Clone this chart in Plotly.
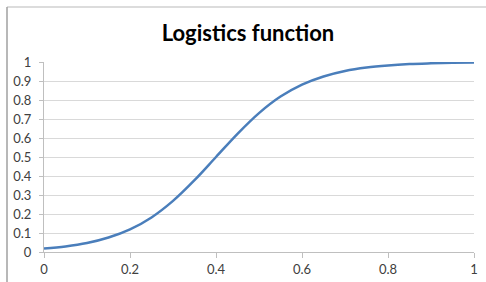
import plotly.graph_objects as go

x_values = [0.0, 0.05, 0.1, 0.15, 0.2, 0.25, 0.3, 0.35, 0.4, 0.45, 0.5,
            0.55, 0.6, 0.65, 0.7, 0.75, 0.8, 0.85, 0.9, 0.95, 1.0]
y_values = [0.018, 0.029, 0.047, 0.076, 0.119, 0.182, 0.269, 0.378, 0.5, 0.622, 0.731,
            0.818, 0.881, 0.924, 0.953, 0.971, 0.982, 0.989, 0.993, 0.996, 0.998]
title_text = "Logistics function"

W, H = 486, 282
L, R, T, B = 44, 12, 62, 30
pw, ph = W - L - R, H - T - B

def px_x(px):
    return (px - L) / pw

def px_y(py):
    return (H - B - py) / ph

fig = go.Figure()
fig.add_trace(go.Scatter(
    x=x_values, y=y_values, mode="lines",
    line=dict(color="#4a7ebb", width=2.5, shape="spline", smoothing=1.0),
    hoverinfo="skip", showlegend=False,
))

axis_font = dict(family="Lato, Carlito, 'Open Sans', sans-serif", size=13, color="#404040")
fig.update_layout(
    width=W, height=H,
    margin=dict(l=L, r=R, t=T, b=B, autoexpand=False),
    paper_bgcolor="white", plot_bgcolor="white",
    title=dict(text="<b>" + title_text + "</b>", x=248 / W, xref="container",
               y=1 - 33 / H, yref="container", xanchor="center", yanchor="middle",
               font=dict(family="Lato, Carlito, 'Open Sans', sans-serif", size=22, color="#000000")),
    xaxis=dict(range=[0, 1], tick0=0, dtick=0.2, showgrid=False, zeroline=False,
               showline=True, linecolor="#bfbfbf", linewidth=1,
               ticks="outside", ticklen=5, tickcolor="#bfbfbf", automargin=False,
               tickfont=axis_font, fixedrange=True),
    yaxis=dict(range=[0, 1], tick0=0, dtick=0.1, showgrid=True, gridcolor="#d9d9d9",
               zeroline=False, showline=True, linecolor="#bfbfbf", linewidth=1,
               ticks="outside", ticklen=4, tickcolor="#bfbfbf", automargin=False,
               tickfont=axis_font, ticklabelstandoff=5, fixedrange=True),
)

# chart frame (top and left edges visible)
fig.add_shape(type="line", xref="paper", yref="paper",
              x0=px_x(7), x1=px_x(W + 5), y0=px_y(7), y1=px_y(7),
              line=dict(color="#d0d0d0", width=1.5))
fig.add_shape(type="line", xref="paper", yref="paper",
              x0=px_x(7), x1=px_x(7), y0=px_y(7), y1=px_y(H + 5),
              line=dict(color="#a0a0a0", width=1.5))

fig.write_html("out.html", config={"displayModeBar": False},
               post_script="document.body.style.margin='0';document.body.style.padding='0';")
